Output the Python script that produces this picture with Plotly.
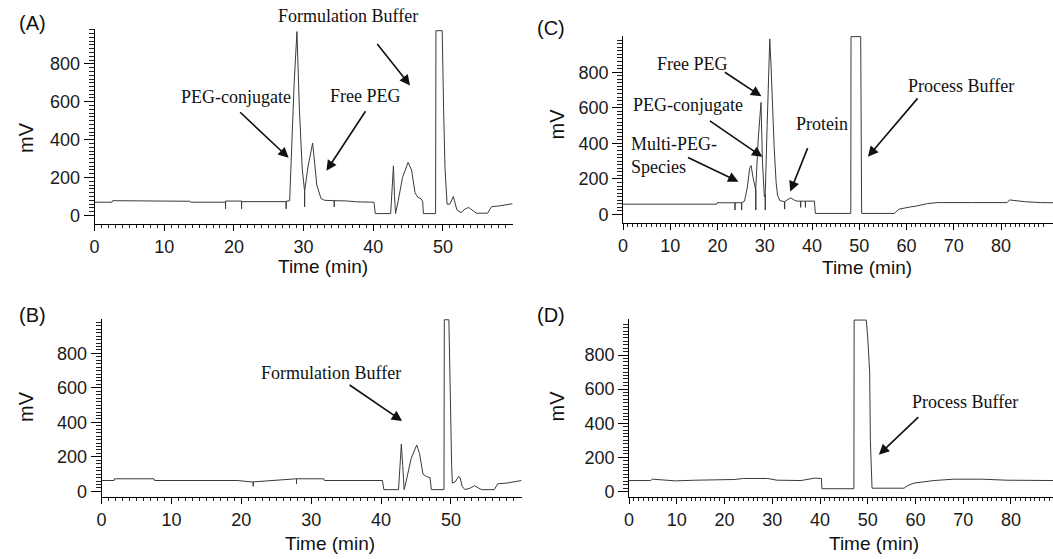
import plotly.graph_objects as go

W, H = 1053, 559

# ---------------- data ----------------
# Panel A: sample chromatogram, time (min) / signal (mV)
a_time = [0, 2.5, 2.6, 5.0, 5.1, 13.7, 13.8, 18.8, 18.8, 18.8, 21.1, 21.1, 21.1,
          27.5, 27.5, 27.5, 28.0, 28.3, 28.65, 29.05, 29.4, 29.8, 30.15, 30.15, 30.15,
          30.6, 31.3, 31.9, 32.5, 33.0, 34.4, 34.4, 34.4, 36.0, 37.6, 40.1, 40.3,
          42.5, 42.75, 42.9, 43.05, 43.2, 43.6, 44.2, 45.0, 45.5, 46.0, 46.4, 46.9,
          47.1, 47.2, 48.95, 49.0, 49.9, 50.1, 50.3, 50.6, 51.0, 51.5, 52.0, 52.6,
          53.2, 53.7, 54.3, 54.8, 56.4, 57.0, 58.0, 60.0]
a_mv = [70, 70, 78, 78, 75, 75, 70, 70, 35, 76, 76, 35, 73,
        73, 35, 75, 78, 380, 700, 970, 560, 250, 127, 45, 127,
        250, 382, 160, 90, 80, 78, 45, 78, 77, 72, 70, 10,
        10, 150, 262, 100, 10, 80, 200, 280, 240, 120, 96, 87,
        73, 10, 10, 975, 975, 560, 250, 60, 60, 100, 30, 15,
        35, 42, 25, 12, 12, 47, 50, 62]

# Panel B: formulation buffer blank
b_time = [0, 1.8, 1.85, 7.5, 7.6, 19.4, 21.7, 21.7, 21.7, 27.9, 27.9, 27.9, 31.8,
          31.9, 40.2, 40.4, 42.5, 42.7, 42.9, 43.1, 43.3, 43.6, 44.3, 45.1, 45.5,
          46.0, 46.5, 47.0, 47.2, 49.0, 49.05, 49.7, 49.9, 50.1, 50.2, 50.6, 51.1,
          51.3, 51.6, 52.0, 52.8, 53.4, 53.9, 54.4, 56.2, 56.7, 58.0, 60.1]
b_mv = [63, 63, 73, 73, 63, 63, 54, 29, 55, 73, 44, 73, 73,
        63, 63, 10, 10, 150, 274, 150, 10, 60, 190, 269, 220,
        100, 86, 80, 10, 10, 995, 995, 500, 150, 48, 55, 86,
        80, 30, 10, 20, 33, 20, 10, 10, 44, 48, 63]

# Panel C: reaction mixture chromatogram
c_time = [0, 19.8, 19.9, 23.7, 23.7, 23.7, 25.1, 25.1, 25.1, 25.7, 26.3, 26.8, 27.1,
          27.5, 28.0, 28.1, 28.1, 28.1, 28.6, 28.9, 29.2, 29.5, 29.9, 30.1, 30.1,
          30.1, 30.5, 30.9, 31.05, 31.3, 31.7, 32.0, 32.4, 32.7, 33.2, 34.2, 34.2,
          34.2, 34.9, 35.5, 36.3, 36.9, 37.6, 37.6, 37.6, 38.6, 38.6, 38.6, 40.5,
          40.7, 48.2, 48.25, 50.3, 50.4, 50.5, 57.4, 58.4, 60.9, 62.0, 64.4, 66.5,
          74.0, 81.3, 81.8, 83.0, 85.0, 88.3, 91.0]
c_mv = [58, 58, 66, 66, 25, 66, 66, 25, 66, 75, 150, 260, 275,
        210, 136, 136, 25, 150, 420, 518, 630, 300, 100, 110, 25,
        120, 500, 950, 987, 850, 520, 369, 180, 108, 78, 72, 30,
        72, 85, 93, 80, 75, 75, 40, 75, 75, 40, 75, 75,
        6, 6, 1000, 1000, 320, 6, 6, 30, 43, 47, 61, 67,
        67, 67, 82, 78, 72, 67, 66]

# Panel D: process buffer blank
d_time = [0, 4.5, 4.9, 6.5, 9.7, 14.0, 17.0, 22.0, 24.0, 29.0, 31.0, 36.0, 38.9,
          40.3, 40.4, 47.1, 47.15, 49.7, 50.0, 50.2, 50.4, 50.55, 50.7, 50.9, 57.6,
          58.4, 59.7, 62.0, 63.9, 68.0, 74.0, 79.0, 84.0, 88.8]
d_mv = [64, 64, 72, 70, 62, 66, 68, 70, 76, 76, 66, 64, 78,
        76, 16, 16, 1005, 1005, 900, 800, 700, 300, 120, 19, 19,
        35, 49, 58, 64, 72, 72, 66, 66, 64]

y_tick_vals = [0, 200, 400, 600, 800]
x_tick_vals_short = [0, 10, 20, 30, 40, 50]
x_tick_vals_long = [0, 10, 20, 30, 40, 50, 60, 70, 80]

# ---------------- layout geometry (pixels) ----------------
panels = [
    # data, pixel box (left, right, top, bottom), x range, y range, x ticks
    (a_time, a_mv, (90, 510, 29, 226), [0, 60], [-47, 985], x_tick_vals_short),
    (b_time, b_mv, (97, 519, 321, 501), [0, 60.1], [-35, 1001], x_tick_vals_short),
    (c_time, c_mv, (621, 1053, 36, 225), [0, 91], [-50, 1005], x_tick_vals_long),
    (d_time, d_mv, (627, 1053, 321, 501), [0, 88.8], [-35, 1013], x_tick_vals_long),
]


def px_x(p):
    return p / W


def px_y(p):
    return 1 - p / H


fig = go.Figure()
SANS = "Liberation Sans, Arial, sans-serif"
SERIF = "Liberation Serif, Times New Roman, serif"

for i, (t, v, box, xr, yr, xt) in enumerate(panels):
    n = "" if i == 0 else str(i + 1)
    left, right, top, bottom = box
    fig.add_trace(go.Scatter(x=t, y=v, mode="lines",
                             line=dict(color="#3a3a3a", width=1),
                             xaxis="x" + n, yaxis="y" + n, showlegend=False,
                             hoverinfo="skip"))
    x_minor = [k for k in range(0, int(xr[1]) + 1) if k % 10 != 0]
    y_minor = [k for k in range(0, int(yr[1]) + 1, 20) if k % 200 != 0]
    xa = dict(domain=[px_x(left), min(1.0, px_x(right))], range=xr, anchor="y" + n,
              showline=True, linecolor="black", linewidth=1, showgrid=False,
              zeroline=False, ticks="outside", ticklen=6, tickcolor="black",
              tickwidth=1, tickmode="array", tickvals=xt,
              minor=dict(tickmode="array", tickvals=x_minor, ticklen=3, tickwidth=1,
                         ticks="outside", tickcolor="#222", showgrid=False),
              tickfont=dict(family=SANS, size=18, color="#1a1a1a"))
    ya = dict(domain=[px_y(bottom), px_y(top)], range=yr, anchor="x" + n,
              showline=True, linecolor="black", linewidth=1, showgrid=False,
              zeroline=False, ticks="outside", ticklen=10, tickcolor="black",
              tickwidth=1, tickmode="array", tickvals=y_tick_vals,
              minor=dict(tickmode="array", tickvals=y_minor, ticklen=5, tickwidth=1,
                         ticks="outside", tickcolor="#222", showgrid=False),
              tickfont=dict(family=SANS, size=18, color="#1a1a1a"))
    fig.layout["xaxis" + n] = xa
    fig.layout["yaxis" + n] = ya

annotations = []


def text(px, py, s, font=SERIF, size=18, xanchor="center", align="center", angle=0):
    annotations.append(dict(x=px_x(px), y=px_y(py), xref="paper", yref="paper",
                            text=s, showarrow=False, xanchor=xanchor, yanchor="middle",
                            align=align, textangle=angle,
                            font=dict(family=font, size=size, color="#111")))


def arrow(tail, tip):
    annotations.append(dict(x=px_x(tip[0]), y=px_y(tip[1]), xref="paper", yref="paper",
                            ax=tail[0] - tip[0], ay=tail[1] - tip[1], text="",
                            showarrow=True, arrowhead=2, arrowsize=1.3, arrowwidth=1.6,
                            arrowcolor="#111"))


# panel letters
text(28, 23, "(A)", font=SANS, size=20)
text(549, 28, "(C)", font=SANS, size=20)
text(28, 317, "(B)", font=SANS, size=20)
text(549, 317, "(D)", font=SANS, size=20)

# axis titles
for cx, cy in [(320, 268), (866, 269), (327, 547), (873, 547)]:
    text(cx, cy, "Time (min)", font=SANS, size=19)
for cx, cy in [(21, 138), (555, 125), (21, 409), (555, 409)]:
    text(cx, cy, "mV", font=SANS, size=20, angle=-90)

# panel A labels
text(345, 16, "Formulation Buffer")
arrow((373, 43), (407, 86))
text(232, 98, "PEG-conjugate")
arrow((235, 112), (285, 159))
text(362, 97, "Free PEG")
arrow((363, 111), (323, 172))

# panel C labels
text(691, 64, "Free PEG")
arrow((722, 72), (760, 97))
text(686, 106, "PEG-conjugate")
arrow((707, 121), (761, 158))
text(627, 157, "Multi-PEG-<br>Species", xanchor="left", align="left")
arrow((685, 158), (737, 183))
text(821, 125, "Protein")
arrow((807, 148), (789, 193))
text(961, 87, "Process Buffer")
arrow((918, 98), (867, 158))

# panel B labels
text(328, 376, "Formulation Buffer")
arrow((345, 387), (399, 424))

# panel D labels
text(965, 405, "Process Buffer")
arrow((919, 419), (878, 458))

fig.update_layout(width=W, height=H, autosize=False,
                  margin=dict(l=0, r=0, t=0, b=0),
                  paper_bgcolor="white", plot_bgcolor="white",
                  annotations=annotations, showlegend=False)

fig.write_html("out.html",
               config={"displayModeBar": False},
               post_script="document.body.style.margin='0px';"
                           "document.body.style.overflow='hidden';")
